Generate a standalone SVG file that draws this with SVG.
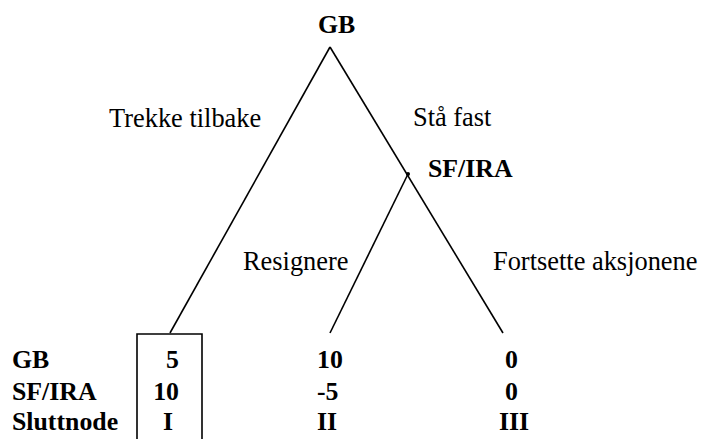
<svg xmlns="http://www.w3.org/2000/svg" width="701" height="439" viewBox="0 0 701 439" font-family="'Liberation Serif', 'Times New Roman', 'DejaVu Serif', serif">
<style>
text{font-family:'Liberation Serif','Times New Roman','DejaVu Serif',serif;font-size:26.4px;fill:#000}
.b{font-weight:bold;font-size:25.8px}
.ln{stroke:#000;stroke-width:1.6;fill:none}
</style>
<rect width="701" height="439" fill="#fff"/>
<g id="connectors">
<path class="ln" d="M330,47 L170,333"/>
<path class="ln" d="M330,47 L503,333"/>
<path class="ln" d="M408,174 L330,333"/>
</g>
<g id="node-gb"><text class="b" x="318" y="33">GB</text></g>
<g id="node-sfira"><circle cx="408" cy="174" r="2" fill="#000"/><text class="b" x="428" y="177">SF/IRA</text></g>
<g id="labels">
<text x="109" y="127">Trekke tilbake</text>
<text x="413" y="126">Stå fast</text>
<text x="243" y="270">Resignere</text>
<text x="493" y="270">Fortsette aksjonene</text>
</g>
<g id="table">
<path class="ln" d="M137,445 V334 H202 V445"/>
<text class="b" x="12" y="368">GB</text>
<text class="b" x="12" y="400">SF/IRA</text>
<text class="b" x="12" y="430">Sluttnode</text>
<text class="b" x="179" y="368" text-anchor="end">5</text>
<text class="b" x="179" y="400" text-anchor="end">10</text>
<text class="b" x="163" y="430">I</text>
<text class="b" x="317" y="368">10</text>
<text class="b" x="317" y="400">-5</text>
<text class="b" x="317" y="430">II</text>
<text class="b" x="505" y="368">0</text>
<text class="b" x="505" y="400">0</text>
<text class="b" x="499" y="430">III</text>
</g>
</svg>
